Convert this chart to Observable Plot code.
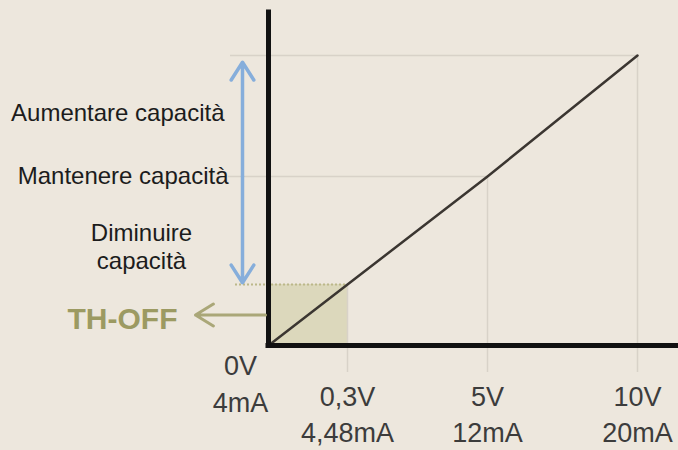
<!DOCTYPE html>
<html>
<head>
<meta charset="utf-8">
<script src="https://cdn.jsdelivr.net/npm/d3@7"></script>
<script src="https://cdn.jsdelivr.net/npm/@observablehq/plot@0.6"></script>
<style>
  html, body { margin: 0; padding: 0; background: #ede7dd; }
  #chart svg { display: block; }
</style>
</head>
<body>
<div id="chart"></div>
<script>
// ---- data ----
const voltage = [0, 0.3, 5, 10];                 // V
const current = [4, 4.48, 12, 20];               // mA
const voltLabels = ["0V", "0,3V", "5V", "10V"];
const currLabels = ["4mA", "4,48mA", "12mA", "20mA"];
const zoneLabels = ["Aumentare capacità", "Mantenere capacità", "Diminuire\ncapacità"];
const zoneLevels = [16.2, 12, 7.13];             // mA, where each zone label sits
const arrowMid = 12;                             // mA, double arrow centre
const arrowEnds = [19.55, 4.6];                  // mA, arrow tips
const thOffLabel = "TH-OFF";
const thOffLevel = 4.24;                         // mA
const thOffTip = -0.266;                         // V (left of axis)

const points = voltage.map((v, i) => ({v, c: current[i], vl: voltLabels[i], cl: currLabels[i]}));
const ticks = points.slice(1);
const origin = points.slice(0, 1);

const gridCol = "#d8d2c8";

const chart = Plot.plot({
  width: 678,
  height: 450,
  marginLeft: 268,
  marginRight: 0,
  marginTop: 12,
  marginBottom: 105,
  x: {type: "linear", domain: voltage, range: [268, 347, 487, 637], axis: null},
  y: {type: "linear", domain: current, range: [345, 284, 176, 55], axis: null},
  style: {background: "#ede7dd", fontFamily: "'Liberation Sans', Arial, sans-serif"},
  marks: [
    // TH-OFF zone
    Plot.rect([0], {x1: voltage[0], x2: voltage[1], y1: current[0], y2: current[1], fill: "#dcd8bc"}),
    // guide lines
    Plot.ruleY([current[3]], {x1: voltage[0], x2: voltage[3], insetLeft: -38, stroke: gridCol, strokeWidth: 1.5}),
    Plot.ruleY([current[2]], {x1: voltage[0], x2: voltage[2], insetLeft: -40, stroke: gridCol, strokeWidth: 1.5}),
    Plot.ruleX(ticks, {x: "v", y1: "c", y2: current[0], insetBottom: -27, stroke: gridCol, strokeWidth: 1.5}),
    Plot.ruleY([current[1]], {x1: voltage[0], x2: voltage[1], insetLeft: -33, stroke: "#bcb88a", strokeWidth: 2, strokeDasharray: "2 2"}),
    // signal line
    Plot.line(points, {x: "v", y: "c", stroke: "#3b3631", strokeWidth: 2.5}),
    // axes
    Plot.ruleX([voltage[0]], {stroke: "#111", strokeWidth: 5, strokeLinecap: "square"}),
    Plot.ruleY([current[0]], {stroke: "#111", strokeWidth: 5, strokeLinecap: "square"}),
    // blue double arrow
    Plot.arrow(arrowEnds, {x1: voltage[0], x2: voltage[0], y1: arrowMid, y2: d => d, dx: -26,
      stroke: "#86aedb", strokeWidth: 3.5, headLength: 9, headAngle: 65}),
    // TH-OFF arrow
    Plot.arrow([thOffLevel], {x1: voltage[0], x2: thOffTip, y1: d => d, y2: d => d, dx: -3,
      stroke: "#aaa778", strokeWidth: 3, headLength: 10.5, headAngle: 63}),
    // zone labels
    Plot.text([0], {x: voltage[0], y: zoneLevels[0], text: [zoneLabels[0]], dx: -44, textAnchor: "end",
      fontSize: 24, fill: "#1c1c1c"}),
    Plot.text([0], {x: voltage[0], y: zoneLevels[1], text: [zoneLabels[1]], dx: -40, textAnchor: "end",
      fontSize: 24, fill: "#1c1c1c"}),
    Plot.text([0], {x: voltage[0], y: zoneLevels[2], text: [zoneLabels[2]], dx: -127, textAnchor: "middle",
      fontSize: 24, lineHeight: 1.17, fill: "#1c1c1c"}),
    Plot.text([0], {x: voltage[0], y: thOffLevel, text: [thOffLabel], dx: -146, dy: 4, textAnchor: "middle",
      fontSize: 30, fontWeight: "bold", fill: "#9c9a62"}),
    // tick labels
    Plot.text(ticks, {x: "v", y: current[0], text: d => d.vl + "\n" + d.cl, dy: 67, lineHeight: 1.33,
      fontSize: 27, fill: "#3c3c3c"}),
    Plot.text(origin, {x: "v", y: current[0], text: d => d.vl + "\n" + d.cl, dx: -28, dy: 36, lineHeight: 1.37,
      fontSize: 27, fill: "#3c3c3c"})
  ]
});
document.getElementById("chart").append(chart);
</script>
</body>
</html>
